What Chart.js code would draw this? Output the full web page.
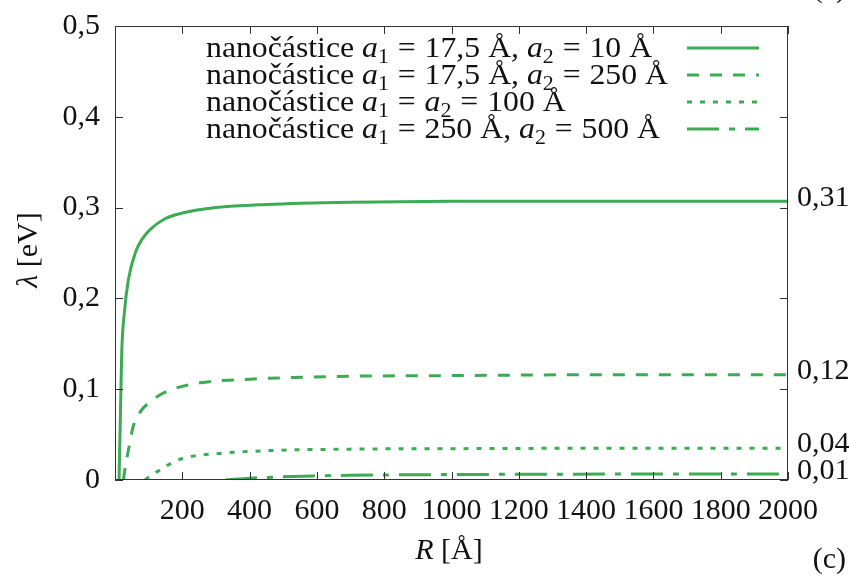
<!DOCTYPE html>
<html>
<head>
<meta charset="utf-8">
<script src="https://cdn.jsdelivr.net/npm/chart.js@4.4.1/dist/chart.umd.min.js"></script>
<style>
  body { margin: 0; background: #fff; }
</style>
</head>
<body>
<canvas id="chart" width="849" height="576"></canvas>
<script>
// values
const r1 = [12, 16, 20, 28, 40, 60, 80, 105, 150, 200, 300, 450, 700, 1000, 1500, 2000];
const lambda1 = [0, 0.07, 0.14, 0.185, 0.221, 0.25, 0.265, 0.276, 0.288, 0.294, 0.300, 0.3035, 0.306, 0.307, 0.307, 0.307];
const r2 = [25, 32, 40, 54, 75, 104, 154, 253, 401, 649, 1000, 1500, 2000];
const lambda2 = [0, 0.018, 0.033, 0.059, 0.075, 0.086, 0.0975, 0.107, 0.111, 0.114, 0.115, 0.116, 0.116];
const r3 = [89, 110, 134, 160, 203, 302, 451, 698, 1000, 1500, 2000];
const lambda3 = [0, 0.006, 0.011, 0.017, 0.024, 0.029, 0.0323, 0.034, 0.0345, 0.035, 0.035];
const r4 = [327, 401, 500, 589, 698, 1000, 1500, 2000];
const lambda4 = [0, 0.002, 0.0035, 0.0045, 0.0052, 0.006, 0.0065, 0.0066];

const seriesLabels = [
    'nanočástice a₁ = 17,5 Å, a₂ = 10 Å',
    'nanočástice a₁ = 17,5 Å, a₂ = 250 Å',
    'nanočástice a₁ = a₂ = 100 Å',
    'nanočástice a₁ = 250 Å, a₂ = 500 Å'
];
const rightTicks = [0.01, 0.04, 0.12, 0.31];

const green = '#3cac54';
const serif = "'Liberation Serif', 'DejaVu Serif', serif";
const fontSize = 30;
const legendSize = 29;

function points(xs, ys) {
    return xs.map((x, i) => ({ x: x, y: ys[i] }));
}

const dashes = [[], [12, 11], [5, 8], [32, 10, 6, 10]];
const allX = [r1, r2, r3, r4];
const allY = [lambda1, lambda2, lambda3, lambda4];

const datasets = seriesLabels.map((label, i) => ({
    label: label,
    data: points(allX[i], allY[i]),
    showLine: true,
    borderColor: green,
    borderWidth: 3,
    borderDash: dashes[i],
    pointRadius: 0,
    cubicInterpolationMode: 'monotone',
    fill: false
}));

// split a label into pieces: italic a, subscripts, "=" with math spacing
function richParts(str) {
    const parts = [];
    str.split(/(a[₁₂]| = )/).forEach(s => {
        if (!s) return;
        if (/^a[₁₂]$/.test(s)) {
            parts.push({ t: 'a', it: true });
            parts.push({ t: s[1] === '₁' ? '1' : '2', sub: true });
        } else if (s === ' = ') {
            parts.push({ t: '=', pad: 0.28 });
        } else {
            parts.push({ t: s });
        }
    });
    return parts;
}

function drawRich(ctx, parts, x, y, size, measureOnly) {
    let cx = x;
    parts.forEach(p => {
        const sz = p.sub ? Math.round(size * 0.7) : size;
        ctx.font = (p.it ? 'italic ' : '') + sz + 'px ' + serif;
        const pad = (p.pad || 0) * size;
        cx += pad;
        if (!measureOnly) ctx.fillText(p.t, cx, p.sub ? y + size * 0.2 : y);
        cx += ctx.measureText(p.t).width + pad;
    });
    return cx - x;
}

const framePlugin = {
    id: 'frame',
    afterDatasetsDraw(chart) {
        const ctx = chart.ctx;
        const a = chart.chartArea;
        const xs = chart.scales.x;
        const ys = chart.scales.y;
        ctx.save();
        ctx.strokeStyle = '#333';
        ctx.lineWidth = 1;
        ctx.strokeRect(a.left + 0.5, a.top + 0.5, a.right - a.left - 1, a.bottom - a.top - 1);
        ctx.beginPath();
        xs.ticks.forEach(t => {
            const px = Math.round(xs.getPixelForValue(t.value)) + 0.5;
            ctx.moveTo(px, a.bottom); ctx.lineTo(px, a.bottom - 8);
            ctx.moveTo(px, a.top); ctx.lineTo(px, a.top + 8);
        });
        ys.ticks.forEach(t => {
            const py = Math.round(ys.getPixelForValue(t.value)) + 0.5;
            ctx.moveTo(a.left, py); ctx.lineTo(a.left + 8, py);
            ctx.moveTo(a.right, py); ctx.lineTo(a.right - 8, py);
        });
        ctx.stroke();

        // legend: text stretched a little to match the wider TeX font
        ctx.fillStyle = '#111';
        ctx.textBaseline = 'alphabetic';
        ctx.textAlign = 'left';
        const w2 = drawRich(ctx, richParts(chart.data.datasets[1].label), 0, 0, legendSize, true);
        const stretch = 462 / w2;
        chart.data.datasets.forEach((ds, i) => {
            const by = 57 + i * 27;
            ctx.save();
            ctx.translate(206, by);
            ctx.scale(stretch, 1);
            drawRich(ctx, richParts(ds.label), 0, 0, legendSize);
            ctx.restore();
            ctx.beginPath();
            ctx.strokeStyle = ds.borderColor;
            ctx.lineWidth = ds.borderWidth;
            ctx.setLineDash(ds.borderDash);
            ctx.moveTo(687, by - 9);
            ctx.lineTo(759, by - 9);
            ctx.stroke();
            ctx.setLineDash([]);
        });

        // axis titles
        ctx.fillStyle = '#111';
        const yTitle = [{ t: 'λ', it: true }, { t: ' [eV]' }];
        const xTitle = [{ t: 'R', it: true }, { t: ' [Å]' }];
        ctx.save();
        ctx.translate(37, 250);
        ctx.rotate(-Math.PI / 2);
        const wy = drawRich(ctx, yTitle, 0, 0, fontSize, true);
        drawRich(ctx, yTitle, -wy / 2, 0, fontSize);
        ctx.restore();

        const wx = drawRich(ctx, xTitle, 0, 0, fontSize, true);
        drawRich(ctx, xTitle, 449 - wx / 2, 559, fontSize);

        ctx.font = fontSize + 'px ' + serif;
        ctx.textAlign = 'right';
        ctx.fillText('(c)', 846, 568);
        ctx.fillText('(c)', 846, -3);
        ctx.restore();
    }
};

const tickFont = { family: serif, size: fontSize };

const ctx = document.getElementById('chart').getContext('2d');
const chart = new Chart(ctx, {
    type: 'scatter',
    data: { datasets: datasets },
    options: {
        responsive: false,
        animation: false,
        layout: { padding: { top: 26, left: 0, right: 0, bottom: 0 } },
        plugins: {
            legend: { display: false },
            tooltip: { enabled: false }
        },
        scales: {
            x: {
                type: 'linear',
                min: 0,
                max: 2000,
                grid: { display: false },
                border: { display: false },
                ticks: {
                    stepSize: 200,
                    autoSkip: false,
                    maxRotation: 0,
                    padding: 5,
                    color: '#111',
                    font: tickFont,
                    callback: v => v === 0 ? '' : v
                },
                afterFit: s => { s.height = 96; }
            },
            y: {
                min: 0,
                max: 0.5,
                grid: { display: false },
                border: { display: false },
                ticks: {
                    stepSize: 0.1,
                    autoSkip: false,
                    padding: 7,
                    color: '#111',
                    font: tickFont,
                    callback: v => v === 0 ? '0' : v.toFixed(1).replace('.', ',')
                },
                afterFit: s => { s.width = 115; }
            },
            y2: {
                position: 'right',
                min: 0,
                max: 0.5,
                grid: { display: false },
                border: { display: false },
                afterBuildTicks: s => { s.ticks = rightTicks.map(v => ({ value: v })); },
                ticks: {
                    autoSkip: false,
                    padding: 1,
                    color: '#111',
                    font: tickFont,
                    callback: v => v.toFixed(2).replace('.', ',')
                },
                afterFit: s => { s.width = 61; }
            }
        }
    },
    plugins: [framePlugin]
});
</script>
</body>
</html>
